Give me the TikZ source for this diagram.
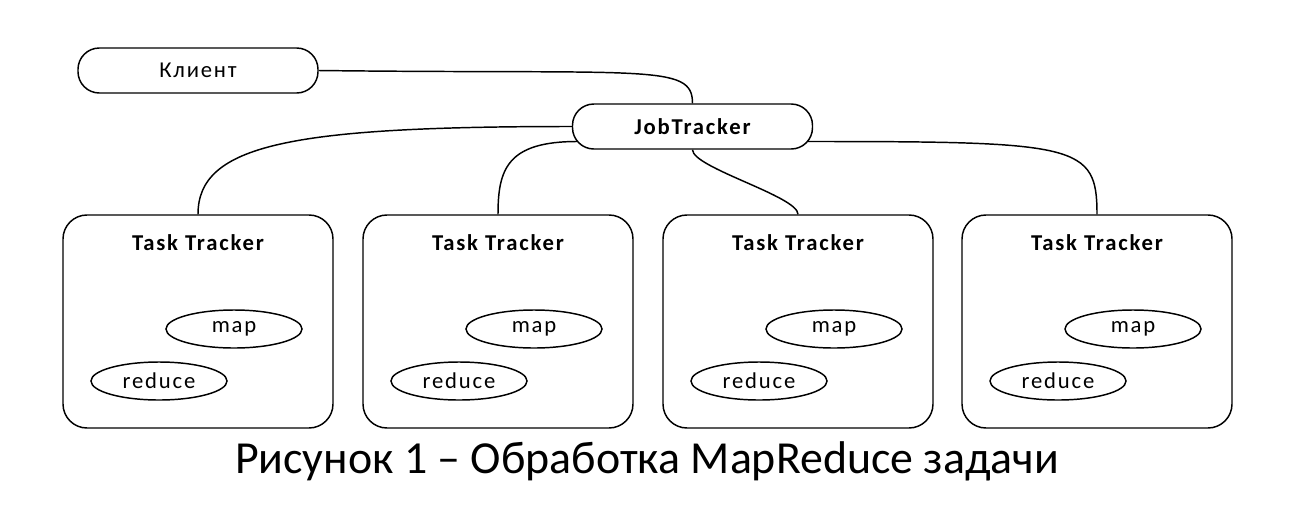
\documentclass[tikz,border=0pt]{standalone}
\usepackage{fontspec}
\setmainfont{Carlito}
\usetikzlibrary{positioning,shapes.geometric}
\newcommand{\boxfont}{\fontsize{17}{20}\selectfont\addfontfeatures{LetterSpace=8}}
\tikzset{
	pill/.style={draw, line width=1.1pt, rounded corners=16pt, minimum width=180pt, minimum height=33.75pt, font=\boxfont},
	tracker/.style={draw, line width=1.1pt, rounded corners=18pt, minimum width=202.5pt, minimum height=159.75pt},
	oval/.style={draw, line width=1.1pt, ellipse, minimum width=102pt, minimum height=28.5pt, inner sep=0pt, font=\boxfont},
	title/.style={font=\bfseries\boxfont},
	link/.style={line width=1.1pt}
}
\begin{document}
\begin{tikzpicture}[x=0.75pt,y=-0.75pt]
	\useasboundingbox (0,0) rectangle (1306,511);
	\node[pill] (client) at (198,70.5) {Клиент};
	\node[pill, font=\bfseries\boxfont] (job) at (692.5,126.5) {JobTracker};
	\foreach \i/\x in {1/198,2/498,3/798,4/1097} {
		\node[tracker] (tt\i) at (\x,321.5) {};
		\node[title] (title\i) at (\x,243) {Task Tracker};
		\node[oval] (map\i) at (\x+36,329) {map};
		\node[oval] (reduce\i) at (\x-39,381) {reduce};
	}
	\node[font=\fontsize{34.4}{40}\selectfont] (caption) at (647,461) {Рисунок 1 – Обработка MapReduce задачи};
	\coordinate (jsw) at ([shift={(5.5,15)}]job.west);
	\coordinate (jse) at ([shift={(-5.5,15)}]job.east);
	\draw[link] (client.east) .. controls +(330,4) and +(0,-40) .. (job.north);
	\draw[link] (job.west) .. controls +(-280,0) and +(0,-70) .. (tt1.north);
	\draw[link] (jsw) .. controls +(-70,0) and +(0,-45) .. (tt2.north);
	\draw[link] (job.south) .. controls +(0,18) and +(0,-18) .. (tt3.north);
	\draw[link] (jse) .. controls +(270,0) and +(0,-70) .. (tt4.north);
\end{tikzpicture}
\end{document}
